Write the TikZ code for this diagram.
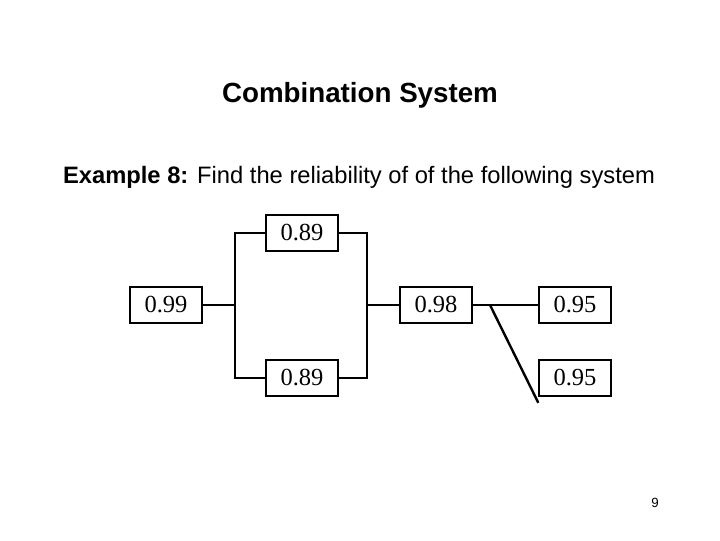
\documentclass[tikz,border=0pt]{standalone}
\usepackage{fontspec}
\setmainfont{Liberation Sans}
\newfontfamily\serifb{Liberation Serif}
\begin{document}
\begin{tikzpicture}[x=0.75pt,y=-0.75pt,
  blk/.style={draw,line width=1.1pt,minimum width=54pt,minimum height=27pt,inner sep=0pt,font=\serifb\fontsize{18.4}{20}\selectfont},
  wire/.style={line width=1.8pt}]
\useasboundingbox (0,0) rectangle (720,540);
\node[font=\bfseries\fontsize{20.8}{24}\selectfont] (title) at (360,95) {Combination System};
\node[font=\fontsize{17.8}{21}\selectfont] (ex) at (359,177) {\textbf{Example 8:} Find the reliability of of the following system};
\node[blk] (a) at (166,305) {0.99};
\node[blk] (b) at (302,233) {0.89};
\node[blk] (c) at (302,378) {0.89};
\node[blk] (d) at (436,305) {0.98};
\node[blk] (e) at (575,305) {0.95};
\node[blk] (f) at (575,378) {0.95};
\node[font=\fontsize{10}{12}\selectfont] (pg) at (655,503) {9};
\coordinate (l) at (235,305);
\coordinate (r) at (367,305);
\coordinate (s) at (490,305);
\draw[wire] (a) -- (l);
\draw[wire] (b.west) -| (l) |- (c.west);
\draw[wire] (b.east) -| (r) |- (c.east);
\draw[wire] (r) -- (d);
\draw[wire] (d) -- (e);
\draw[wire] (s) -- ([yshift=-4.5pt]f.south west);
\end{tikzpicture}
\end{document}
